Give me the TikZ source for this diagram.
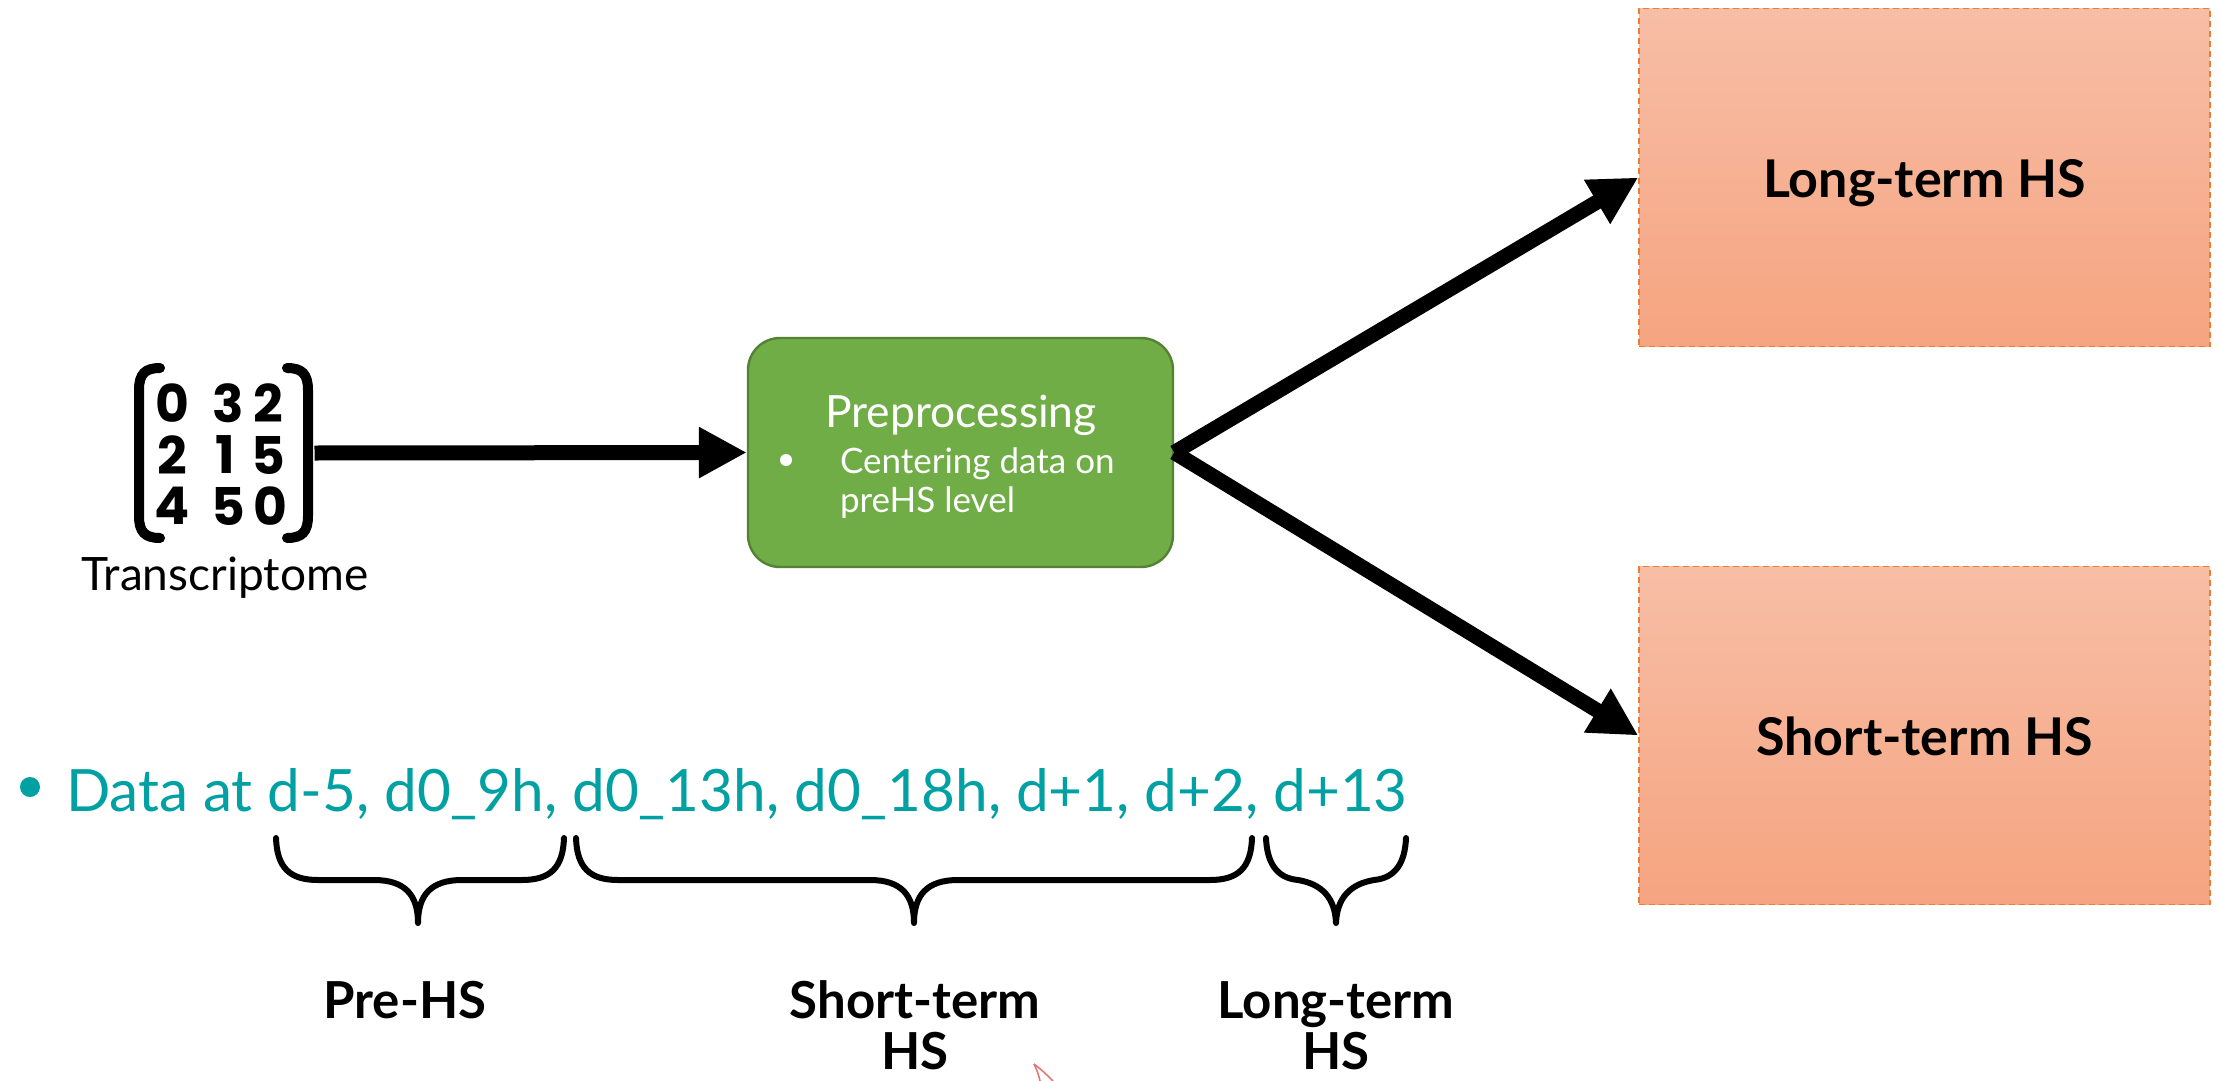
\documentclass[tikz,border=0pt]{standalone}
\usepackage{fontspec}
\setmainfont{Lato}
\newfontfamily\digitfont{Poppins}
\usetikzlibrary{arrows.meta}
\definecolor{tealtxt}{RGB}{0,160,163}
\definecolor{greenfill}{RGB}{112,173,71}
\definecolor{greenline}{RGB}{84,130,53}
\definecolor{orangetop}{RGB}{247,190,166}
\definecolor{orangebot}{RGB}{246,164,128}
\definecolor{orangeline}{RGB}{237,125,49}
\definecolor{pinkmark}{RGB}{222,120,120}
\tikzset{
  txt/.style={inner sep=0pt, outer sep=0pt},
  bigarrow/.style={line width=7.5pt, -{Triangle[length=24pt,width=24pt]}},
  prebox/.style={draw=greenline, line width=1.2pt, fill=greenfill, rounded corners=16pt,
    minimum width=212.5pt, minimum height=114.5pt, inner sep=0pt},
  hsbox/.style={draw=orangeline, line width=0.7pt, dash pattern=on 3pt off 2pt,
    top color=orangetop, bottom color=orangebot, minimum width=285.5pt,
    minimum height=169pt, inner sep=0pt},
  boxlab/.style={txt, anchor=base, font=\fontsize{26}{30}\selectfont\bfseries},
  digit/.style={txt, font=\digitfont\fontsize{26}{28}\selectfont\bfseries},
  bracebar/.style={line width=3pt, line cap=round, line join=round},
  lab/.style={txt, anchor=base, font=\fontsize{25.5}{30}\selectfont\bfseries},
}
\begin{document}
\begin{tikzpicture}[x=0.5pt,y=-0.5pt]
\useasboundingbox (0,0) rectangle (2221,1081);

% matrix
\node[txt, minimum width=90.5pt, minimum height=90pt] (mat) at (224,453) {};
\draw[line width=5pt, line cap=round] (160,368) .. controls (145,368) and (139,374) .. (139,390)
   -- (139,516) .. controls (139,532) and (145,538) .. (160,538);
\draw[line width=5pt, line cap=round] (287,368) .. controls (302,368) and (308,374) .. (308,390)
   -- (308,516) .. controls (308,532) and (302,538) .. (287,538);
\node[digit] (d11) at (172,403) {0};
\node[digit] (d12) at (228,403) {3};
\node[digit] (d13) at (268,403) {2};
\node[digit] (d21) at (172,455) {2};
\node[digit] (d22) at (225,455) {1};
\node[digit] (d23) at (268,455) {5};
\node[digit] (d31) at (172,506) {4};
\node[digit] (d32) at (228,506) {5};
\node[digit] (d33) at (270,506) {0};
\node[txt, anchor=base, font=\fontsize{23}{28}\selectfont] (trans) at (225,590) {Transcriptome};

% preprocessing
\node[prebox] (pre) at (960.5,452.5) {};
\node[txt, anchor=base, white, font=\fontsize{22.2}{26}\selectfont] (ptitle) at (961,427) {Preprocessing};
\fill[white] (786,460) circle (6);
\node[txt, anchor=base west, white, font=\fontsize{17.5}{21}\selectfont] (pl1) at (840,473) {Centering data on};
\node[txt, anchor=base west, white, font=\fontsize{17.5}{21}\selectfont] (pl2) at (840,512) {preHS level};

% outcome boxes
\node[hsbox] (long) at (1924.5,177.5) {};
\node[hsbox] (short) at (1924.5,735.5) {};
\node[boxlab] (longlab) at (1924.5,198) {Long-term HS};
\node[boxlab] (shortlab) at (1924.5,755) {Short-term HS};

% arrows
\draw[bigarrow] (mat.east) -- (pre.west);
\draw[bigarrow] (pre.east) -- (long.west);
\draw[bigarrow] (pre.east) -- (short.west);

% data line
\fill[tealtxt] (30,787) circle (10);
\node[txt, anchor=base west, tealtxt, font=\fontsize{29.2}{35}\selectfont] (data) at (66,811)
  {Data at d-5, d0\_9h, d0\_13h, d0\_18h, d+1, d+2, d+13};

% braces
\draw[bracebar] (276,838) .. controls (277,868) and (290,880) .. (318,880)
  -- (374,880) .. controls (405,880) and (418,895) .. (418,923)
  .. controls (418,895) and (431,880) .. (462,880)
  -- (522,880) .. controls (550,880) and (563,868) .. (564,838);
\draw[bracebar] (576,838) .. controls (577,868) and (590,880) .. (618,880)
  -- (870,880) .. controls (901,880) and (914,895) .. (914,923)
  .. controls (914,895) and (927,880) .. (958,880)
  -- (1210,880) .. controls (1238,880) and (1251,868) .. (1252,838);
\draw[bracebar] (1266,838) .. controls (1267,862) and (1276,878) .. (1298,880)
  .. controls (1322,884) and (1335,898) .. (1336,923)
  .. controls (1337,898) and (1350,884) .. (1374,880)
  .. controls (1396,878) and (1405,862) .. (1406,838);

% labels
\node[lab] (lpre) at (405,1018) {Pre-HS};
\node[lab] (lst1) at (915,1018) {Short-term};
\node[lab] (lst2) at (915,1069) {HS};
\node[lab] (llt1) at (1336,1018) {Long-term};
\node[lab] (llt2) at (1336,1069) {HS};

% small pink mark
\draw[pinkmark, line width=0.8pt] (1034,1064) .. controls (1037,1070) and (1039,1076) .. (1040,1081);
\draw[pinkmark, line width=0.8pt] (1034,1064) .. controls (1042,1070) and (1048,1076) .. (1053,1081);
\end{tikzpicture}
\end{document}
